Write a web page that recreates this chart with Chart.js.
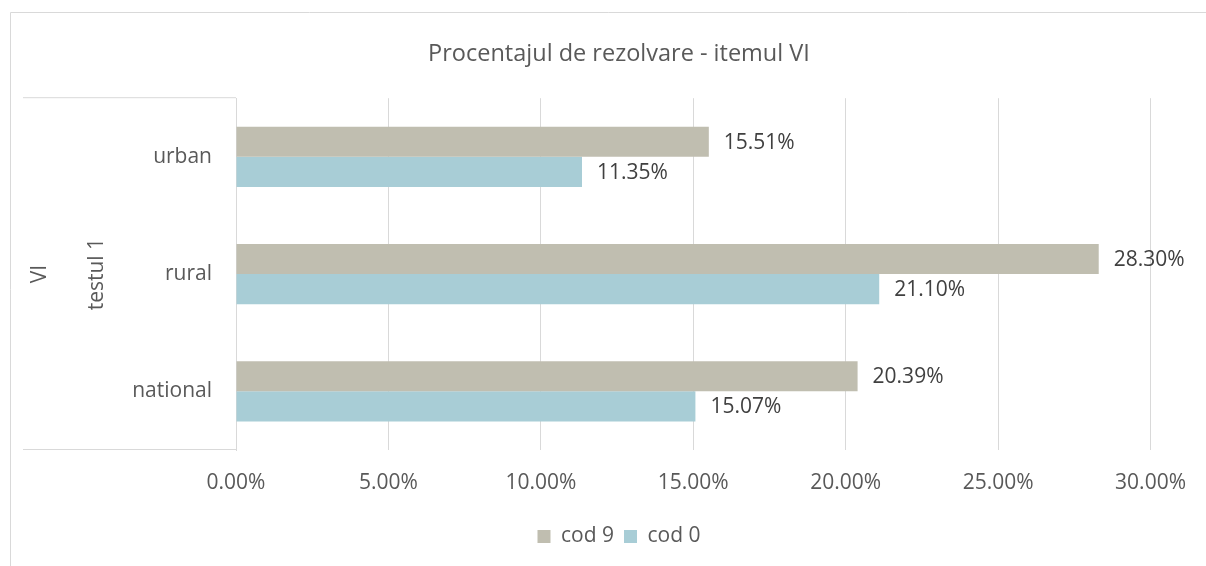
<!DOCTYPE html>
<html>
<head>
<meta charset="utf-8">
<script src="https://cdn.jsdelivr.net/npm/chart.js@4"></script>
<style>
  html, body { margin: 0; padding: 0; background: #fff; }
  #wrap { width: 1206px; height: 566px; }
</style>
</head>
<body>
<div id="wrap"><canvas id="chart" width="1206" height="566"></canvas></div>
<script>
const categories = ["urban", "rural", "national"];
const cod9 = [0.1551, 0.2830, 0.2039];
const cod0 = [0.1135, 0.2110, 0.1507];
const groupLabels = ["testul 1", "VI"];
const xTicks = [0, 0.05, 0.10, 0.15, 0.20, 0.25, 0.30];

const FONT = "'Open Sans', Lato, sans-serif";
const SIZE = 21;
const fmtPct = (v) => (v * 100).toFixed(2) + "%";

// frame, multi-level category box and value labels
const decor = {
  id: "decor",
  beforeDraw(chart) {
    const { ctx, chartArea: a } = chart;
    ctx.save();
    ctx.strokeStyle = "#d9d9d9";
    ctx.lineWidth = 1;
    ctx.beginPath();
    ctx.moveTo(10.5, 566);
    ctx.lineTo(10.5, 12.5);
    ctx.lineTo(1206, 12.5);
    ctx.moveTo(23, a.top - 0.5);
    ctx.lineTo(a.left, a.top - 0.5);
    ctx.moveTo(23, a.bottom - 0.5);
    ctx.lineTo(a.left, a.bottom - 0.5);
    ctx.stroke();
    ctx.restore();
  },
  afterDraw(chart) {
    const { ctx, chartArea: a } = chart;
    const midY = (a.top + a.bottom) / 2;
    ctx.save();
    ctx.fillStyle = "#595959";
    ctx.font = SIZE + "px " + FONT;
    ctx.textAlign = "center";
    ctx.textBaseline = "middle";
    [[97, groupLabels[0]], [40, groupLabels[1]]].forEach(([x, t]) => {
      ctx.save();
      ctx.translate(x, midY);
      ctx.rotate(-Math.PI / 2);
      ctx.fillText(t, 0, 0);
      ctx.restore();
    });
    ctx.fillStyle = "#404040";
    ctx.textAlign = "left";
    chart.data.datasets.forEach((ds, i) => {
      chart.getDatasetMeta(i).data.forEach((bar, j) => {
        ctx.fillText(fmtPct(ds.data[j]), bar.x + 15, bar.y + 1);
      });
    });
    ctx.restore();
  },
};

new Chart(document.getElementById("chart"), {
  type: "bar",
  data: {
    labels: categories,
    datasets: [
      { label: "cod 9", data: cod9, backgroundColor: "#c0beb0" },
      { label: "cod 0", data: cod0, backgroundColor: "#a8cdd6" },
    ],
  },
  options: {
    indexAxis: "y",
    responsive: false,
    animation: false,
    categoryPercentage: 0.513,
    barPercentage: 1,
    layout: { padding: { left: 32, right: 0, top: 0, bottom: 9 } },
    plugins: {
      title: {
        display: true,
        text: "Procentajul de rezolvare - itemul VI",
        color: "#595959",
        font: { family: FONT, size: 23.5, weight: "normal", lineHeight: 1.2 },
        padding: { top: 40, bottom: 30 },
      },
      legend: {
        position: "bottom",
        labels: {
          color: "#595959",
          font: { family: FONT, size: SIZE },
          boxWidth: 13,
          boxHeight: 13,
          padding: 10,
        },
      },
      tooltip: { enabled: false },
    },
    scales: {
      x: {
        min: 0,
        max: 0.3,
        afterBuildTicks: (s) => { s.ticks = xTicks.map((v) => ({ value: v })); },
        afterFit: (s) => { s.height = 66; },
        ticks: {
          color: "#595959",
          font: { family: FONT, size: SIZE },
          padding: 20,
          callback: (v) => fmtPct(v),
        },
        grid: { color: "#d9d9d9", drawTicks: false },
        border: { display: false },
      },
      y: {
        afterFit: (s) => { s.width = 204; },
        ticks: {
          color: "#595959",
          font: { family: FONT, size: SIZE },
          padding: 24,
        },
        grid: { display: false, drawTicks: false },
        border: { display: true, color: "#d9d9d9" },
      },
      // empty right-hand box so the plot stops at 30% where the reference does
      yRight: {
        type: "linear",
        position: "right",
        min: 0,
        max: 1,
        afterFit: (s) => { s.width = 51; },
        ticks: { display: false },
        grid: { display: false, drawTicks: false },
        border: { display: false },
      },
    },
  },
  plugins: [decor],
});
</script>
</body>
</html>
